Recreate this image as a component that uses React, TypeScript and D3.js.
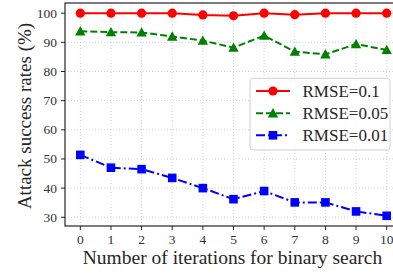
import React from "react";
import * as d3 from "d3";

const iterations = [0, 1, 2, 3, 4, 5, 6, 7, 8, 9, 10];
const rmse01 = [100, 100, 100, 100, 99.4, 99.1, 100, 99.5, 100, 100, 100];
const rmse005 = [93.8, 93.5, 93.4, 92, 90.6, 88.2, 92.3, 86.8, 85.9, 89.4, 87.4];
const rmse001 = [51.4, 47, 46.5, 43.5, 40, 36.2, 39, 35.1, 35.1, 32, 30.5];
const yTicks = [30, 40, 50, 60, 70, 80, 90, 100];
const seriesNames = ["RMSE=0.1", "RMSE=0.05", "RMSE=0.01"];

const W = 393;
const H = 274;
const FONT = "'Liberation Serif', 'DejaVu Serif', serif";

export default function App() {
  const left = 65, right = 402, top = 3, bottom = 226;
  const x = d3.scaleLinear().domain([-0.5, 10.5]).range([left, right]);
  const y = d3.scaleLinear().domain([27, 103.5]).range([bottom, top]);

  const series = [
    { name: seriesNames[0], values: rmse01, color: "#ff0000", dash: "none", marker: "circle" },
    { name: seriesNames[1], values: rmse005, color: "#008000", dash: "7,3", marker: "triangle" },
    { name: seriesNames[2], values: rmse001, color: "#0000ff", dash: "9,3,2,3", marker: "square" },
  ];

  const line = d3.line<number>().x((_, i) => x(iterations[i])).y((d) => y(d));

  const marker = (type: string, cx: number, cy: number, color: string, key: string) => {
    if (type === "circle") return <circle key={key} cx={cx} cy={cy} r={4.6} fill={color} />;
    if (type === "square") return <rect key={key} x={cx - 4.3} y={cy - 4.3} width={8.6} height={8.6} fill={color} />;
    const s = 5.2;
    return (
      <path key={key} d={`M${cx},${cy - s} L${cx + s},${cy + s * 0.8} L${cx - s},${cy + s * 0.8} Z`} fill={color} />
    );
  };

  const legendRows = [91, 113.3, 135.3];

  return (
    <svg width={W} height={H} style={{ position: "absolute", left: 0, top: 0, background: "#fff" }}>
      <defs>
        <clipPath id="plotclip">
          <rect x={left} y={top} width={right - left} height={bottom - top} />
        </clipPath>
      </defs>
      {/* grid */}
      <g stroke="#c8c8c8" strokeWidth={0.8} strokeDasharray="1,2">
        {iterations.map((t) => (
          <line key={"gx" + t} x1={x(t)} x2={x(t)} y1={top} y2={bottom} />
        ))}
        {yTicks.map((t) => (
          <line key={"gy" + t} x1={left} x2={right} y1={y(t)} y2={y(t)} />
        ))}
      </g>
      {/* series */}
      <g clipPath="url(#plotclip)">
        {series.map((s) => (
          <g key={s.name}>
            <path d={line(s.values) || ""} fill="none" stroke={s.color} strokeWidth={2} strokeDasharray={s.dash} />
            {s.values.map((v, i) => marker(s.marker, x(iterations[i]), y(v), s.color, s.name + i))}
          </g>
        ))}
      </g>
      {/* spines */}
      <rect x={left} y={top} width={right - left} height={bottom - top} fill="none" stroke="#262626" strokeWidth={1.2} />
      {/* x ticks */}
      <g fontFamily={FONT} fontSize={13.5} fill="#333" textAnchor="middle">
        {iterations.map((t) => (
          <g key={"xt" + t}>
            <line x1={x(t)} x2={x(t)} y1={bottom} y2={bottom + 4} stroke="#262626" strokeWidth={1} />
            <text x={x(t)} y={bottom + 18}>{t}</text>
          </g>
        ))}
      </g>
      {/* y ticks */}
      <g fontFamily={FONT} fontSize={13.5} fill="#333" textAnchor="end">
        {yTicks.map((t) => (
          <g key={"yt" + t}>
            <line x1={left - 4} x2={left} y1={y(t)} y2={y(t)} stroke="#262626" strokeWidth={1} />
            <text x={left - 8} y={y(t) + 4.5}>{t}</text>
          </g>
        ))}
      </g>
      {/* axis labels */}
      <text x={232.5} y={263.5} fontFamily={FONT} fontSize={19.5} fill="#262626" textAnchor="middle">
        Number of iterations for binary search
      </text>
      <text
        transform={`translate(31,${116}) rotate(-90)`}
        fontFamily={FONT}
        fontSize={19}
        fill="#262626"
        textAnchor="middle"
      >
        Attack success rates (%)
      </text>
      {/* legend */}
      <rect x={250} y={78.3} width={140} height={71.7} rx={3} fill="#ffffff" fillOpacity={0.85} stroke="#d0d0d0" strokeWidth={1} />
      {series.map((s, i) => (
        <g key={"lg" + s.name}>
          <line x1={256} x2={290} y1={legendRows[i]} y2={legendRows[i]} stroke={s.color} strokeWidth={2} strokeDasharray={s.dash} />
          {marker(s.marker, 273, legendRows[i], s.color, "lm" + i)}
          <text x={302.5} y={legendRows[i] + 5.5} fontFamily={FONT} fontSize={17} fill="#262626">
            {s.name}
          </text>
        </g>
      ))}
    </svg>
  );
}
